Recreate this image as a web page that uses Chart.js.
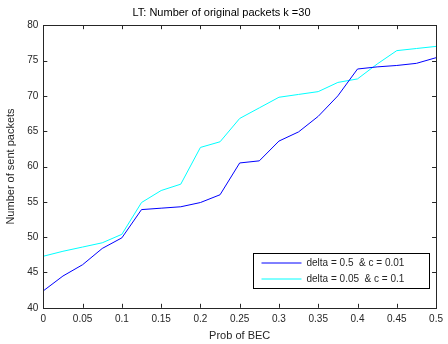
<!DOCTYPE html>
<html>
<head>
<meta charset="utf-8">
<script src="https://cdn.jsdelivr.net/npm/chart.js@4/dist/chart.umd.min.js"></script>
<style>
  html, body { margin: 0; padding: 0; background: #fff; }
  #wrap { width: 448px; height: 344px; }
</style>
</head>
<body>
<div id="wrap"><canvas id="myChart"></canvas></div>
<script>
const probBEC = [0, 0.025, 0.05, 0.075, 0.1, 0.125, 0.15, 0.175, 0.2, 0.225, 0.25,
  0.275, 0.3, 0.325, 0.35, 0.375, 0.4, 0.425, 0.45, 0.475, 0.5]
const sentA = [42.4, 44.5, 46.1, 48.4, 49.9, 53.9, 54.1, 54.3, 54.9, 56.0, 60.5,
  60.8, 63.6, 64.9, 67.1, 70.0, 73.8, 74.1, 74.3, 74.6, 75.4]
const sentB = [47.3, 48.0, 48.6, 49.2, 50.4, 54.9, 56.6, 57.5, 62.7, 63.5, 66.8,
  68.3, 69.8, 70.2, 70.6, 71.9, 72.4, 74.5, 76.4, 76.7, 77.0]
const seriesNames = ['delta = 0.5  & c = 0.01', 'delta = 0.05  & c = 0.1']
const xTicks = [0, 0.05, 0.1, 0.15, 0.2, 0.25, 0.3, 0.35, 0.4, 0.45, 0.5]
const yTicks = [40, 45, 50, 55, 60, 65, 70, 75, 80]

const font = "'Liberation Sans', Arial, sans-serif"
const txt = '#262626'

// matlab style box, inward ticks, legend inside the axes
const matlabAxes = {
  id: 'matlabAxes',
  afterDatasetsDraw(chart) {
    const { ctx, chartArea: a, scales } = chart
    ctx.save()
    ctx.strokeStyle = '#262626'
    ctx.lineWidth = 1
    ctx.beginPath()
    xTicks.forEach(v => {
      const x = Math.round(scales.x.getPixelForValue(v)) + 0.5
      ctx.moveTo(x, a.bottom); ctx.lineTo(x, a.bottom - 4)
      ctx.moveTo(x, a.top); ctx.lineTo(x, a.top + 4)
    })
    yTicks.forEach(v => {
      const y = Math.round(scales.y.getPixelForValue(v)) + 0.5
      ctx.moveTo(a.left, y); ctx.lineTo(a.left + 4, y)
      ctx.moveTo(a.right, y); ctx.lineTo(a.right - 4, y)
    })
    ctx.stroke()
    ctx.strokeRect(Math.round(a.left) + 0.5, Math.round(a.top) + 0.5,
      Math.round(a.right - a.left), Math.round(a.bottom - a.top))

    // legend
    const bx = Math.round(a.right) - 182.5, by = Math.round(a.bottom) - 54.5
    const bw = 176, bh = 35
    ctx.fillStyle = '#fff'
    ctx.fillRect(bx, by, bw, bh)
    ctx.strokeStyle = '#000'
    ctx.strokeRect(bx, by, bw, bh)
    ctx.font = '10px ' + font
    ctx.textBaseline = 'middle'
    chart.data.datasets.forEach((ds, i) => {
      const y = by + 9.5 + i * 16
      ctx.strokeStyle = ds.borderColor
      ctx.beginPath()
      ctx.moveTo(bx + 8, y); ctx.lineTo(bx + 48, y)
      ctx.stroke()
      ctx.fillStyle = txt
      ctx.fillText(ds.label, bx + 53, y)
    })
    ctx.restore()
  }
}

const ctx = document.getElementById('myChart')
const myChart = new Chart(ctx, {
  type: 'line',
  data: {
    datasets: [{
      label: seriesNames[0],
      data: probBEC.map((x, i) => ({ x: x, y: sentA[i] })),
      borderColor: '#0000ff',
      borderWidth: 1,
      pointRadius: 0,
      tension: 0
    }, {
      label: seriesNames[1],
      data: probBEC.map((x, i) => ({ x: x, y: sentB[i] })),
      borderColor: '#00ffff',
      borderWidth: 1,
      pointRadius: 0,
      tension: 0
    }]
  },
  options: {
    responsive: true,
    maintainAspectRatio: false,
    animation: false,
    layout: { padding: { left: 4, right: 9, top: 0, bottom: 1 } },
    plugins: {
      legend: { display: false },
      tooltip: { enabled: false },
      title: {
        display: true,
        text: 'LT: Number of original packets k =30',
        color: '#000',
        font: { family: font, size: 11, weight: 'normal' },
        padding: { top: 6, bottom: 6 }
      }
    },
    scales: {
      x: {
        type: 'linear',
        min: 0,
        max: 0.5,
        afterBuildTicks: s => { s.ticks = xTicks.map(v => ({ value: v })) },
        grid: { display: false, drawTicks: false, tickLength: 0 },
        border: { display: false },
        ticks: {
          color: txt,
          font: { family: font, size: 10 },
          maxRotation: 0,
          padding: 5,
          callback: v => String(v)
        },
        title: {
          display: true,
          text: 'Prob of BEC',
          color: txt,
          font: { family: font, size: 11 },
          padding: { top: 0, bottom: 0 }
        }
      },
      y: {
        min: 40,
        max: 80,
        afterBuildTicks: s => { s.ticks = yTicks.map(v => ({ value: v })) },
        grid: { display: false, drawTicks: false, tickLength: 0 },
        border: { display: false },
        ticks: {
          color: txt,
          font: { family: font, size: 10 },
          padding: 5
        },
        title: {
          display: true,
          text: 'Number of sent packets',
          color: txt,
          font: { family: font, size: 11 },
          padding: { top: 0, bottom: 5 }
        }
      }
    }
  },
  plugins: [matlabAxes]
})
</script>
</body>
</html>
